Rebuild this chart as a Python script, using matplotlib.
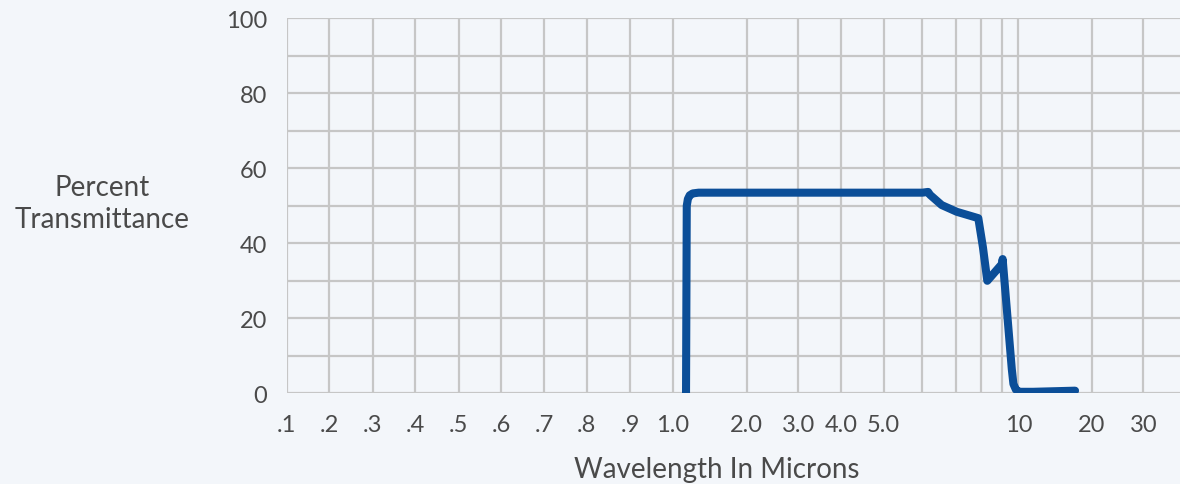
from matplotlib import pyplot as plt
import numpy as np

# hand drawn wavelength axis: grid values and where they sit along the axis
grid_values = [0.1, 0.2, 0.3, 0.4, 0.5, 0.6, 0.7, 0.8, 0.9, 1.0,
               2.0, 3.0, 4.0, 5.0, 6, 7, 8, 9, 10, 20, 30, 40]
grid_px = [286.7, 329.3, 372.7, 415.3, 458.7, 501, 544, 586.7, 630, 672.7,
           746.7, 798.3, 841, 883.7, 922.3, 956.3, 981.3, 1002, 1018.3, 1092, 1143.3, 1185]
tick_values = [0.1, 0.2, 0.3, 0.4, 0.5, 0.6, 0.7, 0.8, 0.9, 1.0,
               2.0, 3.0, 4.0, 5.0, 10, 20, 30]
tick_labels = ['.1', '.2', '.3', '.4', '.5', '.6', '.7', '.8', '.9', '1.0',
               '2.0', '3.0', '4.0', '5.0', '10', '20', '30']

# curve
wavelength = [1.18, 1.19, 1.205, 1.23, 1.27, 1.35, 3.0, 6.0, 6.17, 6.23, 6.57, 7.02, 7.88,
              8.08, 8.29, 9.0, 9.04, 9.6, 9.7, 9.85, 10.1, 12.0, 17.7]
transmittance = [0.0, 50.0, 51.8, 52.8, 53.3, 53.5, 53.5, 53.5, 53.7, 52.9, 50.2, 48.4, 46.7,
                 38.9, 30.0, 34.5, 35.8, 6.5, 2.5, 1.0, 0.4, 0.4, 0.7]

forward = lambda x: np.interp(x, grid_values, grid_px)
inverse = lambda p: np.interp(p, grid_px, grid_values)

text_color = '#4a4a4a'
plt.rcParams['font.family'] = ['Lato', 'DejaVu Sans']

fig = plt.figure(figsize=(11.8, 4.85), dpi=100)
fig.patch.set_facecolor('#f3f6fa')
ax = fig.add_axes([286.7 / 1180, 90.7 / 485, (1180 - 286.7) / 1180, 375 / 485])
ax.set_facecolor('#f3f6fa')
ax.set_xscale('function', functions=(forward, inverse))
ax.set_xlim(0.1, inverse(1180))
ax.set_ylim(0, 100)

for v in grid_values[:-1]:
    ax.axvline(v, color='#c6c6c6', lw=1.6, zorder=1)
for v in range(0, 101, 10):
    ax.axhline(v, color='#c6c6c6', lw=1.6, zorder=1)

ax.plot(wavelength, transmittance, color='#0b4e98', lw=5.8,
        solid_joinstyle='round', solid_capstyle='round', zorder=3)

ax.set_xticks(tick_values)
ax.set_xticklabels(tick_labels)
ax.set_yticks(range(0, 101, 20))
ax.xaxis.set_minor_locator(plt.NullLocator())
ax.tick_params(length=0, labelsize=17, colors=text_color)
ax.tick_params(axis='x', pad=15)
ax.tick_params(axis='y', pad=14)
for s in ax.spines.values():
    s.set_visible(False)

fig.text(102 / 1180, 1 - 204 / 485, 'Percent\nTransmittance', ha='center', va='center',
         fontsize=20, color=text_color, linespacing=1.3)
fig.text(717 / 1180, 1 - 470 / 485, 'Wavelength In Microns', ha='center', va='center',
         fontsize=20, color=text_color)

plt.savefig('out.png', dpi=100, facecolor=fig.get_facecolor())
